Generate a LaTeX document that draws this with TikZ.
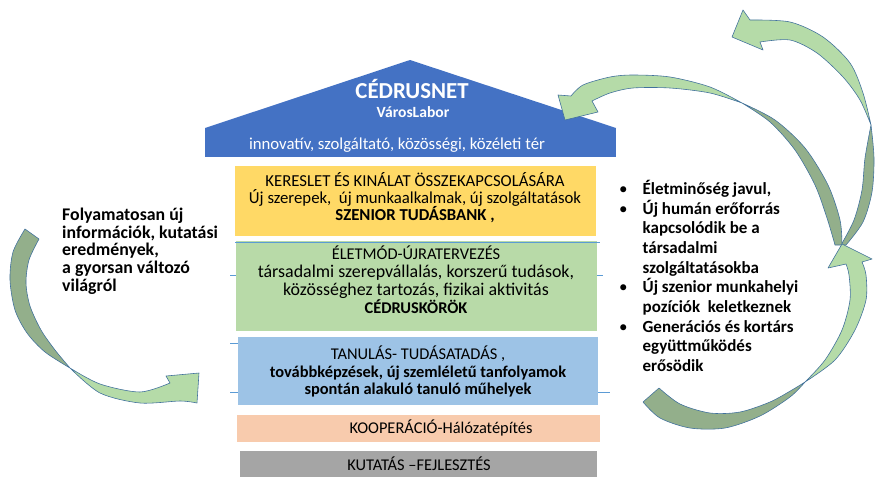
\documentclass[tikz,border=0pt]{standalone}
\usepackage{fontspec}
\setmainfont{Carlito}
\usetikzlibrary{positioning}
\definecolor{roofblue}{HTML}{4472C4}
\definecolor{yellowbox}{HTML}{FFD966}
\definecolor{greenbox}{HTML}{B8DAA8}
\definecolor{bluebox}{HTML}{9DC3E6}
\definecolor{orangebox}{HTML}{F8CBAD}
\definecolor{graybox}{HTML}{A5A5A5}
\definecolor{arrowlight}{HTML}{B5DBA8}
\definecolor{arrowdark}{HTML}{93AF8B}
\definecolor{arrowline}{HTML}{41719C}
\definecolor{frameline}{HTML}{5B9BD5}
\begin{document}
\begin{tikzpicture}[x=0.03cm,y=-0.03cm,line join=round,font=\fontsize{14}{15}\selectfont]
            \tikzset{box/.style={inner sep=0pt,outer sep=0pt},
                boxtext/.style={align=center,inner sep=0pt},
                front/.style={fill=arrowlight,draw=arrowline,line width=0.5pt},
                back/.style={fill=arrowdark,draw=arrowline,line width=0.5pt},
                sidetext/.style={align=left,inner sep=0pt,font=\fontsize{15.2}{15}\selectfont\bfseries}}
            \useasboundingbox (0,0) rectangle (875,477);
            \fill[roofblue] (205,128) -- (410,60) -- (616,128) -- cycle;
            \node[box,fill=roofblue,minimum width=12.33cm,minimum height=0.87cm] (band) at (410.5,142.5) {};
            \node[boxtext,white,font=\fontsize{19.5}{21}\selectfont\bfseries] (title) at (412,89) {CÉDRUSNET};
            \node[boxtext,white,font=\fontsize{13.3}{15}\selectfont\bfseries] (lab) at (413,112) {VárosLabor};
            \node[boxtext,white,font=\fontsize{14.3}{15}\selectfont] (space) at (397,145) {innovatív, szolgáltató, közösségi, közéleti tér};
            \node[box,fill=yellowbox,minimum width=10.83cm,minimum height=2.1cm] (demand) at (415.5,201) {};
            \node[box,fill=greenbox,minimum width=10.83cm,minimum height=2.7cm] (life) at (416.5,286) {};
            \node[box,fill=bluebox,minimum width=10.8cm,minimum height=2.04cm] (learn) at (418,371) {};
            \node[box,fill=orangebox,minimum width=10.89cm,minimum height=0.81cm] (coop) at (418.5,428.5) {};
            \node[box,fill=graybox,minimum width=10.71cm,minimum height=0.78cm] (research) at (418.5,464) {};
            \node[boxtext,font=\fontsize{14.3}{14.6}\selectfont] (demandtext) at (415,198) {KERESLET ÉS KINÁLAT ÖSSZEKAPCSOLÁSÁRA\\Új szerepek,\ \ új munkaalkalmak, új szolgáltatások\\\textbf{SZENIOR TUDÁSBANK ,}};
            \node[boxtext,font=\fontsize{15.3}{15.4}\selectfont] (lifetext) at (416,280) {{\fontsize{14}{15.4}\selectfont ÉLETMÓD-ÚJRATERVEZÉS}\\társadalmi szerepvállalás, korszerű tudások,\\közösséghez tartozás, fizikai aktivitás\\{\fontsize{14}{15.4}\selectfont\bfseries CÉDRUSKÖRÖK}};
            \node[boxtext] (learntext) at (418,371.5) {TANULÁS- TUDÁSATADÁS ,\\\textbf{továbbképzések, új szemléletű tanfolyamok}\\\textbf{spontán alakuló tanuló műhelyek}};
            \node[boxtext] (cooptext) at (441,428) {KOOPERÁCIÓ-Hálózatépítés};
            \node[boxtext] (researchtext) at (419,464) {KUTATÁS –FEJLESZTÉS};
            \draw[frameline,line width=0.4pt] (235,242) -- (600,242);
            \foreach \ya/\xa/\xb in {275/230/236,275/597/603,343/230/238,392/230/238,392/598/610}
            \draw[frameline,line width=0.4pt] (\xa,\ya) -- (\xb,\ya);
            \node[sidetext,anchor=north west] (news) at (62,208) {Folyamatosan új\\információk, kutatási\\eredmények,\\a gyorsan változó\\világról};
            \node[sidetext,anchor=north west,font=\fontsize{14.5}{16.8}\selectfont\bfseries] (results) at (619,180) {%
                \makebox[20pt][l]{\mdseries\textbullet}Életminőség javul,\\
                \makebox[20pt][l]{\mdseries\textbullet}Új humán erőforrás\\
                \hspace*{20pt}kapcsolódik be a\\
                \hspace*{20pt}társadalmi\\
                \hspace*{20pt}szolgáltatásokba\\
                \makebox[20pt][l]{\mdseries\textbullet}Új szenior munkahelyi\\
                \hspace*{20pt}pozíciók\ \ keletkeznek\\
                \makebox[20pt][l]{\mdseries\textbullet}Generációs és kortárs\\
                \hspace*{20pt}együttműködés\\
                \hspace*{20pt}erősödik};
            \filldraw[back] plot[smooth] coordinates {(25,229) (13,252) (10,280) (15,310) (27,333) (45,352) (70,368)}
                -- plot[smooth] coordinates {(70,368) (55,350) (41,330) (30,306) (26,283) (29,260) (39,239)} -- cycle;
            \filldraw[front] plot[smooth] coordinates {(70,368) (100,384) (140,392) (170,383)} -- (166,376) -- (199,373) -- (197,403)
                -- plot[smooth] coordinates {(197,403) (180,401) (140,403) (100,393) (70,368)} -- cycle;
            \filldraw[front] plot[smooth] coordinates {(871,125) (863,93) (850,63) (823,37) (790,22) (750,20)} -- (743,10) -- (732,37) -- (763,50)
                -- plot[smooth] coordinates {(760,42) (790,40) (817,53) (843,77) (860,100) (871,125)} -- cycle;
            \filldraw[back] plot[smooth] coordinates {(871,125) (874,158) (872,192) (863,222) (846,245)}
                -- plot[smooth] coordinates {(841,245) (854,220) (862,190) (865,158) (871,125)} -- cycle;
            \filldraw[front] plot[smooth] coordinates {(742,103) (710,87) (670,77) (633,75) (610,77) (583,85) (571,96)} -- (558,95) -- (565,120) -- (598,112)
                -- plot[smooth] coordinates {(592,101) (610,93) (633,88) (670,88) (710,93) (742,103)} -- cycle;
            \filldraw[back] plot[smooth] coordinates {(742,103) (775,120) (805,148) (828,185) (840,220) (842,245)}
                -- plot[smooth] coordinates {(835,245) (827,218) (815,185) (795,150) (770,122) (742,103)} -- cycle;
            \filldraw[back] plot[smooth] coordinates {(643,402) (660,418) (690,428) (725,428) (760,416) (790,397) (805,382)}
                -- plot[smooth] coordinates {(805,382) (792,390) (770,402) (740,412) (710,413) (680,404) (659,388)} -- cycle;
            \filldraw[front] plot[smooth] coordinates {(805,382) (825,360) (842,330) (850,300) (849,275) (846,264)} -- (828,268) -- (842,244) -- (872,259)
                -- plot[smooth] coordinates {(862,262) (866,275) (866,300) (855,330) (835,360) (805,382)} -- cycle;
        \end{tikzpicture}
\end{document}
